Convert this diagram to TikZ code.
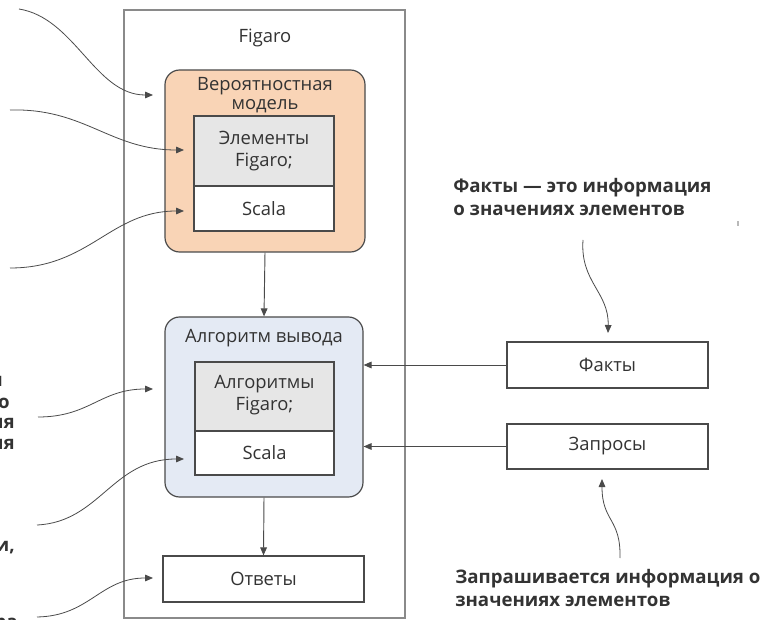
\documentclass[tikz,border=0pt]{standalone}
\usepackage{fontspec}
\setmainfont{Open Sans}
\usetikzlibrary{arrows.meta,fit}
\definecolor{txtc}{HTML}{333333}
\definecolor{linec}{HTML}{4A4A4A}
\definecolor{outerc}{HTML}{8A8A8A}
\definecolor{peach}{HTML}{F9D4B6}
\definecolor{paleblue}{HTML}{E4EAF4}
\definecolor{grayf}{HTML}{E6E6E6}
\begin{document}
\begin{tikzpicture}[x=0.75pt,y=-0.75pt,
  lbl/.style={font=\fontsize{13.8}{14.5}\selectfont, text=txtc, align=center, inner sep=0pt},
  captxt/.style={font=\fontsize{14}{17.2}\selectfont\bfseries, text=txtc, align=left, inner sep=0pt},
  outerbox/.style={draw=outerc, line width=1.5pt, inner sep=0pt},
  rbox/.style={draw=linec, line width=0.9pt, rounded corners=11pt, inner sep=0pt},
  ibox/.style={draw=linec, line width=0.9pt, inner sep=0pt},
  arr/.style={draw=linec, line width=0.7pt, -{Triangle[length=6pt,width=5pt]}},
  carr/.style={draw=linec, line width=0.6pt, -{Triangle[length=6pt,width=5pt]}}
]
\useasboundingbox (0,0) rectangle (768,620);

% outer Figaro frame
\node[outerbox, fit={(124,10)(405,618)}] (fig) {};
\node[lbl] (figt) at (265,38) {Figaro};

% probabilistic model
\node[rbox, fill=peach, fit={(165,70)(365,252)}] (prob) {};
\node[lbl] (probt) at (265,95) {Вероятностная\\модель};
\node[ibox, fill=grayf, fit={(194,116)(334,186)}] (elem) {};
\node[lbl] (elemt) at (264,151) {Элементы\\[2pt]Figaro;};
\node[ibox, fill=white, fit={(194,186)(334,231)}] (scala1) {};
\node[lbl] (scala1t) at (scala1.center) {Scala};

% inference algorithm
\node[rbox, fill=paleblue, fit={(165,317)(363,497)}] (inf) {};
\node[lbl] (inft) at (264,338) {Алгоритм вывода};
\node[ibox, fill=grayf, fit={(195,362)(334,431)}] (alg) {};
\node[lbl] (algt) at (264.5,395) {Алгоритмы\\[2pt]Figaro;};
\node[ibox, fill=white, fit={(195,431)(334,475)}] (scala2) {};
\node[lbl] (scala2t) at (scala2.center) {Scala};

% answers
\node[ibox, fill=white, fit={(163,556)(364,602)}] (ans) {};
\node[lbl] (anst) at (ans.center) {Ответы};

% facts and queries
\node[ibox, fill=white, fit={(507,342)(708,388)}] (facts) {};
\node[lbl] (factst) at (facts.center) {Факты};
\node[ibox, fill=white, fit={(507,424)(708,469)}] (queries) {};
\node[lbl] (queriest) at (queries.center) {Запросы};

% straight connectors
\draw[arr] (prob.south) -- (inf.north);
\draw[arr] (inf.south) -- (ans.north);
\draw[arr] (facts.west) -- (facts.west -| inf.east);
\draw[arr] (queries.west) -- (queries.west -| inf.east);

% captions on the right
\node[captxt, anchor=west] (factcap) at (453,197) {Факты — это информация\\о значениях элементов};
\node[captxt, anchor=west] (querycap) at (455,588) {Запрашивается информация о\\значениях элементов};

\coordinate (fs) at (583,240);
\coordinate (ft) at (608,333);
\draw[carr] (fs) .. controls (580,282) and (609,292) .. (ft);
\coordinate (qs) at (620,558);
\coordinate (qt) at (602,479);
\draw[carr] (qs) .. controls (621,518) and (602,522) .. (qt);

% cropped caption fragments on the left
\node[captxt, anchor=base east] (f1) at (3,387) {и};
\node[captxt, anchor=base east] (f2) at (10,408.5) {о};
\node[captxt, anchor=base east] (f3) at (15,428) {ия};
\node[captxt, anchor=base east] (f4) at (15,450) {ия};
\node[captxt, anchor=base east] (f5) at (15,551) {и,};
\node[captxt, anchor=base east] (f6) at (18,628) {ра};

% curved pointers from the left
\coordinate (s1) at (19,9);    \coordinate (t1) at (153,95);
\coordinate (s2) at (10,110);  \coordinate (t2) at (184,150);
\coordinate (s3) at (10,268);  \coordinate (t3) at (184,211);
\coordinate (s4) at (38,417);  \coordinate (t4) at (153,389);
\coordinate (s5) at (37,525);  \coordinate (t5) at (184,459);
\coordinate (s6) at (37,617);  \coordinate (t6) at (153,578);
\draw[carr] (s1) .. controls (75,18) and (95,95) .. (t1);
\draw[carr] (s2) .. controls (85,108) and (110,150) .. (t2);
\draw[carr] (s3) .. controls (90,268) and (110,211) .. (t3);
\draw[carr] (s4) .. controls (90,417) and (100,389) .. (t4);
\draw[carr] (s5) .. controls (100,522) and (112,459) .. (t5);
\draw[carr] (s6) .. controls (90,616) and (100,578) .. (t6);

% small stray mark
\fill[outerc!60] (737.2,221.5) rectangle (738.8,226.5);
\end{tikzpicture}
\end{document}
